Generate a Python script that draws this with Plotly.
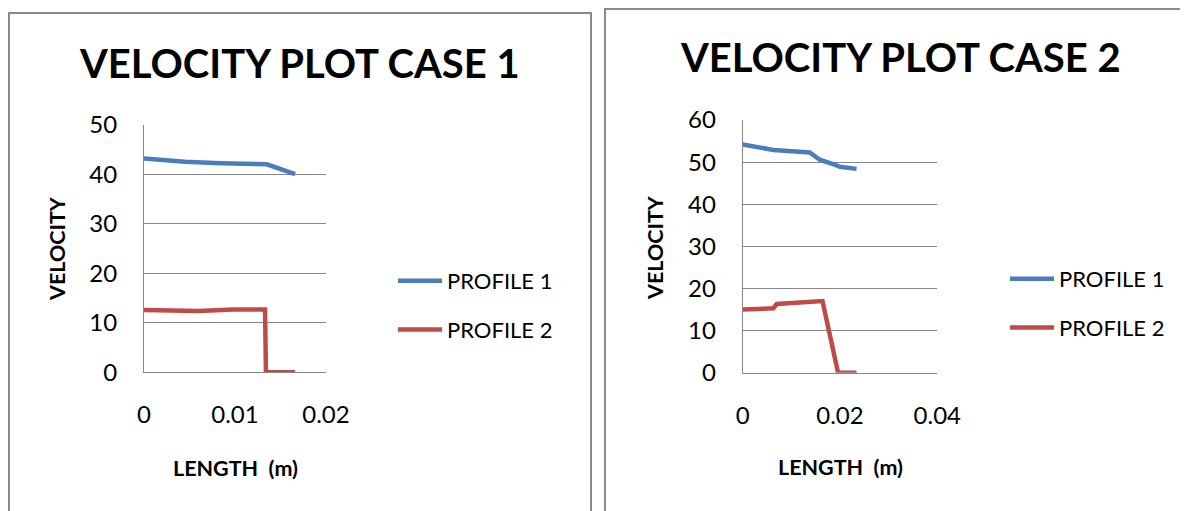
"""Velocity profiles along the length, two cases side by side."""

import plotly.graph_objects as go

# case 1
case1_len_p1 = [0, 0.0045, 0.0085, 0.0135, 0.0166]
case1_vel_p1 = [43.2, 42.5, 42.2, 42.0, 40.0]
case1_len_p2 = [0, 0.006, 0.0098, 0.0133, 0.0134, 0.0166]
case1_vel_p2 = [12.6, 12.4, 12.7, 12.7, 0, 0]

# case 2
case2_len_p1 = [0, 0.0063, 0.0138, 0.0159, 0.0186, 0.0200, 0.0234]
case2_vel_p1 = [54.2, 52.9, 52.3, 50.5, 49.5, 48.9, 48.4]
case2_len_p2 = [0, 0.0063, 0.0070, 0.0145, 0.0164, 0.0196, 0.0234]
case2_vel_p2 = [15.0, 15.3, 16.3, 17.0, 17.0, 0, 0]

series_names = ["PROFILE 1", "PROFILE 2"]
chart_titles = ["VELOCITY PLOT CASE 1", "VELOCITY PLOT CASE 2"]

W, H = 1188, 511
OFF = 8  # page body margin shifts the figure by this much
BLUE = "#4a7ebb"
RED = "#be4b48"
GRID = "#868686"
FONT = "Lato"


def px_x(v):
    return (v - OFF) / W


def px_y(v):
    return 1 - (v - OFF) / H


fig = go.Figure()

for xs, ys, name, color, legend, xa, ya in [
    (case1_len_p1, case1_vel_p1, series_names[0], BLUE, "legend", "x", "y"),
    (case1_len_p2, case1_vel_p2, series_names[1], RED, "legend", "x", "y"),
    (case2_len_p1, case2_vel_p1, series_names[0], BLUE, "legend2", "x2", "y2"),
    (case2_len_p2, case2_vel_p2, series_names[1], RED, "legend2", "x2", "y2"),
]:
    fig.add_trace(go.Scatter(
        x=xs, y=ys, name=name, mode="lines",
        line=dict(color=color, width=4.5),
        legend=legend, legendgroup=name + legend,
        xaxis=xa, yaxis=ya,
    ))

axis_common = dict(
    showgrid=False, zeroline=False, showline=True, linecolor=GRID, linewidth=1,
    ticks="", tickfont=dict(family=FONT, size=24, color="#000"), automargin=False,
)
yaxis_extra = dict(showgrid=True, gridcolor=GRID, gridwidth=1)

legend_style = dict(xanchor="left", yanchor="top", font=dict(family=FONT, size=22, color="#000"),
                    tracegroupgap=17, itemwidth=44, bgcolor="rgba(0,0,0,0)")

fig.update_layout(
    width=W, height=H,
    margin=dict(l=0, r=0, t=0, b=0, pad=0, autoexpand=False),
    paper_bgcolor="white", plot_bgcolor="white",
    font=dict(family=FONT, color="#000"),
    xaxis=dict(domain=[px_x(144), px_x(326)], range=[0, 0.02], dtick=0.01,
               anchor="y", ticklabelstandoff=21, **axis_common),
    yaxis=dict(domain=[px_y(372.3), px_y(124.7)], range=[0, 50], dtick=10,
               anchor="x", ticklabelstandoff=21, **{**axis_common, **yaxis_extra}),
    xaxis2=dict(domain=[px_x(742.7), px_x(937.3)], range=[0, 0.04], dtick=0.02,
                anchor="y2", ticklabelstandoff=21, **axis_common),
    yaxis2=dict(domain=[px_y(372.7), px_y(120)], range=[0, 60], dtick=10,
                anchor="x2", ticklabelstandoff=21, **{**axis_common, **yaxis_extra}),
    legend=dict(x=px_x(393), y=px_y(260), **legend_style),
    legend2=dict(x=px_x(1005), y=px_y(258), **legend_style),
    showlegend=True,
)

# panel frames (edges kept inside the visible page)
fig.add_shape(type="rect", xref="paper", yref="paper",
              x0=px_x(9), x1=px_x(591), y0=px_y(530), y1=px_y(13),
              line=dict(color="#8a8a8a", width=2))
fig.add_shape(type="rect", xref="paper", yref="paper",
              x0=px_x(605), x1=px_x(1210), y0=px_y(530), y1=px_y(9),
              line=dict(color="#8a8a8a", width=2))

# titles and axis labels
length_label = "LENGTH\u00a0 (m)"
for text, x, y, size, angle in [
    (chart_titles[0], 299, 63, 40, 0),
    (chart_titles[1], 900, 57, 40, 0),
    (length_label, 235, 468, 21.5, 0),
    (length_label, 840, 467, 21.5, 0),
    ("VELOCITY", 57, 249, 21.5, -90),
    ("VELOCITY", 655, 248, 21.5, -90),
]:
    fig.add_annotation(text=f"<b>{text}</b>", xref="paper", yref="paper",
                       x=px_x(x), y=px_y(y), xanchor="center", yanchor="middle",
                       showarrow=False, textangle=angle,
                       font=dict(family=FONT, size=size, color="#000"))

fig.write_html("out.html")
